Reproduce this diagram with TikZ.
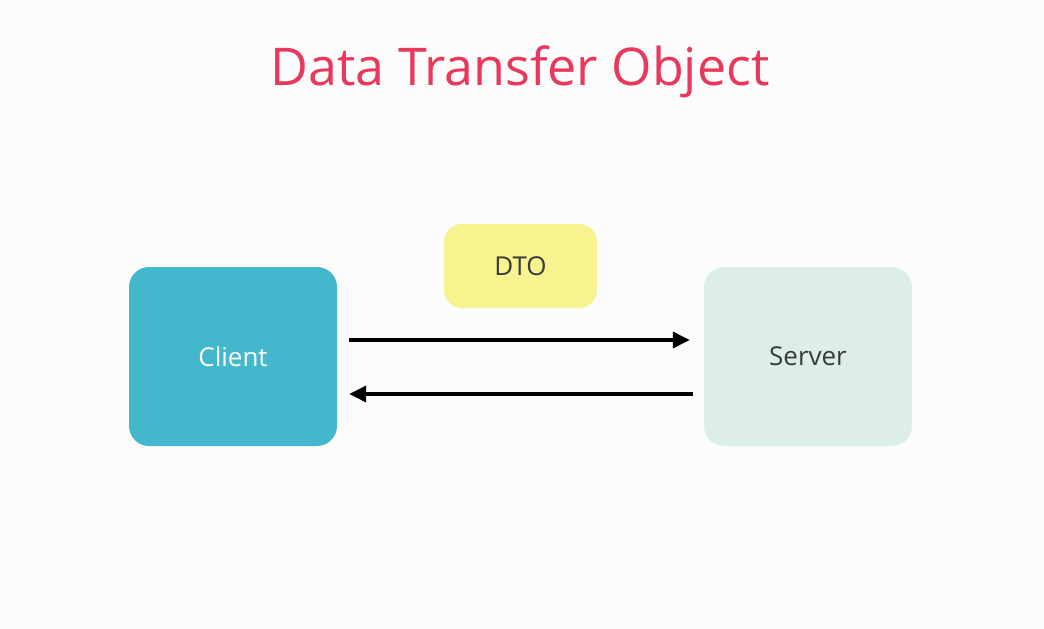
\documentclass[tikz,border=0pt]{standalone}
\usepackage{fontspec}
\setmainfont{Open Sans}
\usepackage{tikz}
\usetikzlibrary{arrows.meta}
\usetikzlibrary{calc}
\definecolor{titlec}{HTML}{E8395C}
\definecolor{clientc}{HTML}{43B7CB}
\definecolor{serverc}{HTML}{DDEDE7}
\definecolor{dtoc}{HTML}{F7F38F}
\definecolor{txtc}{HTML}{3A3A3A}
\definecolor{bgc}{HTML}{FDFCFD}
\tikzset{box/.style={rounded corners=20pt,inner sep=0pt,font=\fontsize{26}{26}\selectfont}}
\tikzset{msg/.style={line width=3.5pt,-{Triangle[length=17pt,width=16pt]}}}

\begin{document}
\begin{tikzpicture}[x=1pt,y=-1pt]
            \fill[bgc](0,0) rectangle (1044,629);
            \useasboundingbox (0,0) rectangle (1044,629);
            \node[titlec,font=\fontsize{52}{52}\selectfont] (title) at (520,72) {Data Transfer Object};
            \node[box,fill=clientc,text=white,minimum width=208pt,minimum height=179pt] (client) at (233,356.5) {Client};
            \node[box,fill=serverc,text=txtc,minimum width=208pt,minimum height=179pt] (server) at (808,356.5) {Server};
            \node[box,fill=dtoc,text=txtc,minimum width=153pt,minimum height=84pt,rounded corners=18pt] (dto) at (520.5,266) {DTO};
            \draw[msg,shorten <=12pt,shorten >=14pt]([yshift=16.5pt]client.east)--([yshift=16.5pt]server.west);
            \draw[msg,shorten <=11pt,shorten >=12pt]([yshift=-37.5pt]server.west)--([yshift=-37.5pt]client.east);
          \end{tikzpicture}
\end{document}
